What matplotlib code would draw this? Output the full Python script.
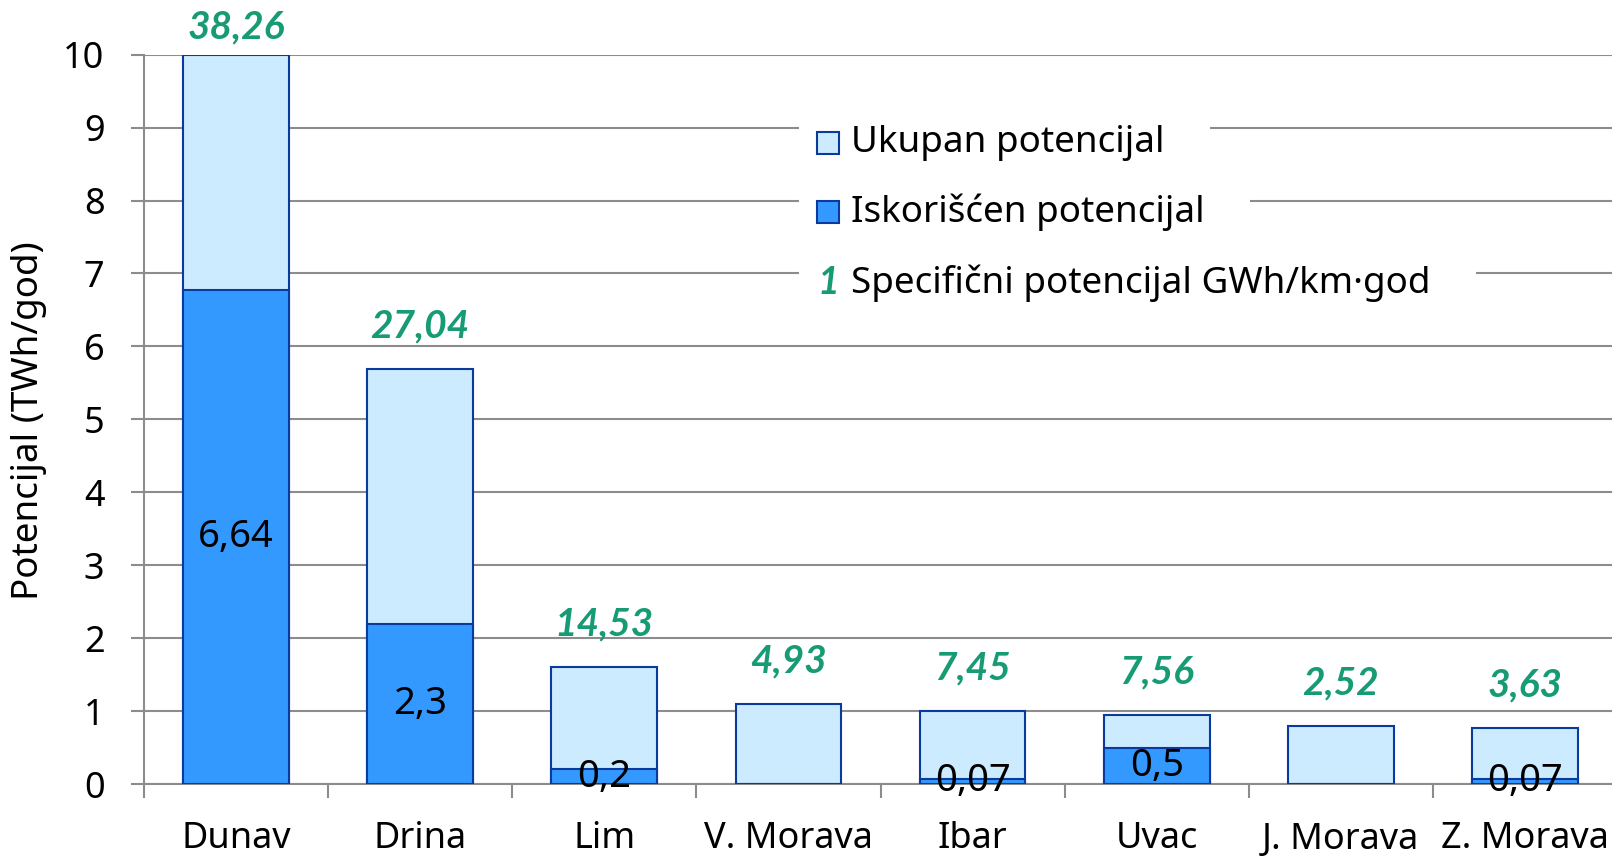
import numpy as np
import matplotlib
matplotlib.use("Agg")
import matplotlib.pyplot as plt
from matplotlib.patches import Rectangle

plt.rcParams['font.family'] = ['Noto Sans', 'DejaVu Sans']

categories = ["Dunav", "Drina", "Lim", "V. Morava", "Ibar", "Uvac", "J. Morava", "Z. Morava"]
total_potential = [10.0, 5.69, 1.60, 1.10, 1.00, 0.94, 0.80, 0.77]
used_potential = [6.77, 2.20, 0.20, 0.0, 0.07, 0.49, 0.0, 0.07]
used_labels = ["6,64", "2,3", "0,2", "", "0,07", "0,5", "", "0,07"]
specific_potential = [38.26, 27.04, 14.53, 4.93, 7.45, 7.56, 2.52, 3.63]
yticks = list(range(0, 11))

LIGHT = '#CCEBFF'
DARK = '#3399FF'
EDGE = '#0A3A9E'
GREEN = '#169B75'
GRID = '#8C8C8C'
BOLDIT = ['Lato', 'DejaVu Sans']

W, H = 1612, 858
fig = plt.figure(figsize=(W / 100, H / 100), dpi=100)
ax = fig.add_axes([144 / W, 74 / H, 1473 / W, 729.3 / H])

x = np.arange(len(categories))
bw = 0.575
ax.bar(x, total_potential, width=bw, color=LIGHT, edgecolor=EDGE, linewidth=1.5, zorder=3)
ax.bar(x, used_potential, width=bw, color=DARK, edgecolor=EDGE, linewidth=1.5, zorder=4)

ax.set_xlim(-0.5, len(categories) - 0.5)
ax.set_ylim(0, 10)
ax.set_yticks(yticks)
ax.set_yticklabels([str(v) for v in yticks])
ax.yaxis.grid(True, color=GRID, linewidth=1.5, zorder=0)
ax.set_axisbelow(True)

for s in ['top', 'right']:
    ax.spines[s].set_visible(False)
for s in ['left', 'bottom']:
    ax.spines[s].set_color(GRID)
    ax.spines[s].set_linewidth(1.5)

ax.set_xticks(x)
ax.set_xticklabels(categories)
ax.set_xticks(np.arange(-0.5, len(categories), 1.0), minor=True)
ax.tick_params(axis='x', which='major', length=0, labelsize=26, pad=27)
ax.tick_params(axis='x', which='minor', length=10, width=1.5, color=GRID)
ax.tick_params(axis='y', length=9.5, width=1.5, color=GRID, labelsize=26, pad=19)

fig.text(29 / W, 1 - 421 / H, "Potencijal (TWh/god)", rotation=90,
         ha='center', va='center', fontsize=26.5)

# used value labels (centered within the used bar)
for xi, u, lab in zip(x, used_potential, used_labels):
    if lab:
        ax.text(xi, u / 2, lab, ha='center', va='center', fontsize=27.5, zorder=6)

# specific potential labels above bars
for xi, t, sp in zip(x, total_potential, specific_potential):
    off = 20 if t >= ax.get_ylim()[1] else 31
    ax.annotate(f"{sp:.2f}".replace('.', ','), (xi, t), xytext=(0, off),
                textcoords='offset points', ha='center', va='center',
                fontsize=28, fontweight='bold', fontstyle='italic', color=GREEN,
                family=BOLDIT, annotation_clip=False, zorder=6)

# custom legend
leg_x_handle = (828 - 144) / 1473
leg_x_text = (851 - 144) / 1473
leg_ys = [(784 - 143) / 729.3, (784 - 212) / 729.3, (784 - 283) / 729.3]
leg_texts = ["Ukupan potencijal", "Iskorišćen potencijal", "Specifični potencijal GWh/km·god"]

text_objs = []
for y, lab in zip(leg_ys, leg_texts):
    t = ax.text(leg_x_text, y, lab, transform=ax.transAxes, ha='left', va='center',
                fontsize=26.5, zorder=7)
    text_objs.append(t)

ax.plot([leg_x_handle], [leg_ys[0]], marker='s', ms=16.5, mfc=LIGHT, mec=EDGE, mew=1.5,
        transform=ax.transAxes, zorder=8, clip_on=False, linestyle='none')
ax.plot([leg_x_handle], [leg_ys[1]], marker='s', ms=16.5, mfc=DARK, mec=EDGE, mew=1.5,
        transform=ax.transAxes, zorder=8, clip_on=False, linestyle='none')
ax.text(leg_x_handle, leg_ys[2], "1", transform=ax.transAxes, ha='center', va='center',
        fontsize=27, fontweight='bold', fontstyle='italic', color=GREEN,
        family=BOLDIT, zorder=8)

fig.canvas.draw()
renderer = fig.canvas.get_renderer()
inv = ax.transAxes.inverted()
for t in text_objs:
    bb = t.get_window_extent(renderer)
    (x0, y0), (x1, y1) = inv.transform([[bb.x0 - 52, bb.y0 - 4], [bb.x1 + 45, bb.y1 + 4]])
    ax.add_patch(Rectangle((x0, y0), x1 - x0, y1 - y0, transform=ax.transAxes,
                           facecolor='white', edgecolor='none', zorder=5, clip_on=False))

fig.savefig("out.png", dpi=100)
